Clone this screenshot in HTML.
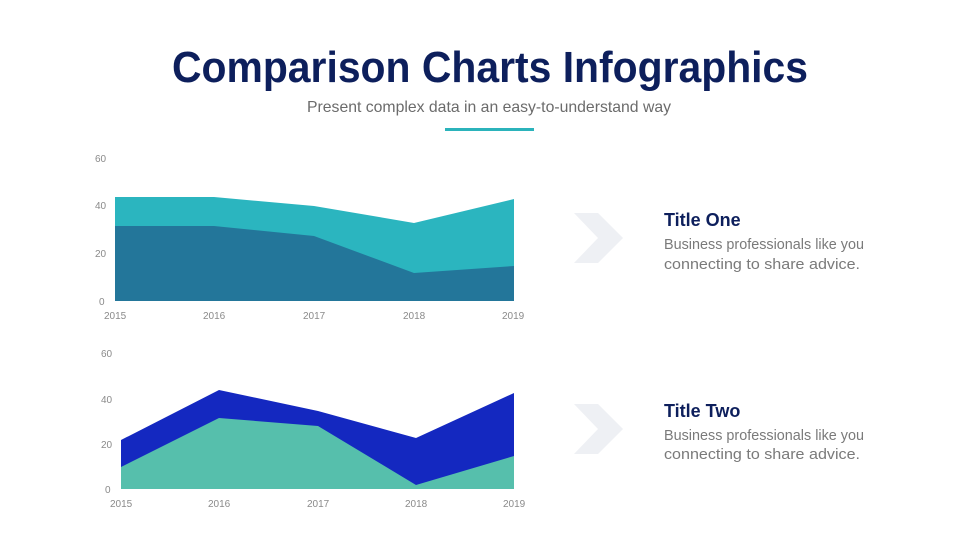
<!DOCTYPE html>
<html><head><meta charset="utf-8"><style>html,body{margin:0;padding:0;background:#fff}svg{display:block}</style></head>
<body>
<svg width="980" height="551" viewBox="0 0 980 551" xmlns="http://www.w3.org/2000/svg" font-family="Liberation Sans, sans-serif">
<text x="172" y="82" font-size="44" font-weight="bold" fill="#0d1f5c" textLength="636" lengthAdjust="spacingAndGlyphs">Comparison Charts Infographics</text>
<text x="307" y="112" font-size="16" fill="#6b6b6b" textLength="364" lengthAdjust="spacingAndGlyphs">Present complex data in an easy-to-understand way</text>
<rect x="445" y="128" width="89" height="3" fill="#2bb3bb"/>

<g font-size="10" fill="#8a8a8a">
<text x="95" y="162">60</text><text x="95" y="209">40</text><text x="95" y="257">20</text><text x="99" y="305">0</text>
<text x="104" y="319">2015</text><text x="203" y="319">2016</text><text x="303" y="319">2017</text><text x="403" y="319">2018</text><text x="502" y="319">2019</text>
<text x="101" y="357">60</text><text x="101" y="403">40</text><text x="101" y="448">20</text><text x="105" y="493">0</text>
<text x="110" y="507">2015</text><text x="208" y="507">2016</text><text x="307" y="507">2017</text><text x="405" y="507">2018</text><text x="503" y="507">2019</text>
</g>

<polygon points="115,197 214,197 314,206 414,223 514,199 514,301 115,301" fill="#2bb5bf"/>
<polygon points="115,226 214,226 314,236 414,273 514,266 514,301 115,301" fill="#23769a"/>

<polygon points="121,440 219,390 318,411 416,438 514,393 514,489 121,489" fill="#1428c0"/>
<polygon points="121,467 219,418 318,426 416,485 514,456 514,489 121,489" fill="#56bfac"/>

<polygon points="574,213 598,213 623,238 598,263 574,263 598,238" fill="#eef0f4"/>
<polygon points="574,404 598,404 623,429 598,454 574,454 598,429" fill="#eef0f4"/>

<text x="664" y="226" font-size="18" font-weight="bold" fill="#0d1f5c">Title One</text>
<text x="664" y="249" font-size="14.5" fill="#7a7a7a" textLength="200" lengthAdjust="spacingAndGlyphs">Business professionals like you</text>
<text x="664" y="269" font-size="14.5" fill="#7a7a7a" textLength="196" lengthAdjust="spacingAndGlyphs">connecting to share advice.</text>

<text x="664" y="417" font-size="18" font-weight="bold" fill="#0d1f5c">Title Two</text>
<text x="664" y="440" font-size="14.5" fill="#7a7a7a" textLength="200" lengthAdjust="spacingAndGlyphs">Business professionals like you</text>
<text x="664" y="459" font-size="14.5" fill="#7a7a7a" textLength="196" lengthAdjust="spacingAndGlyphs">connecting to share advice.</text>
</svg>
</body></html>
